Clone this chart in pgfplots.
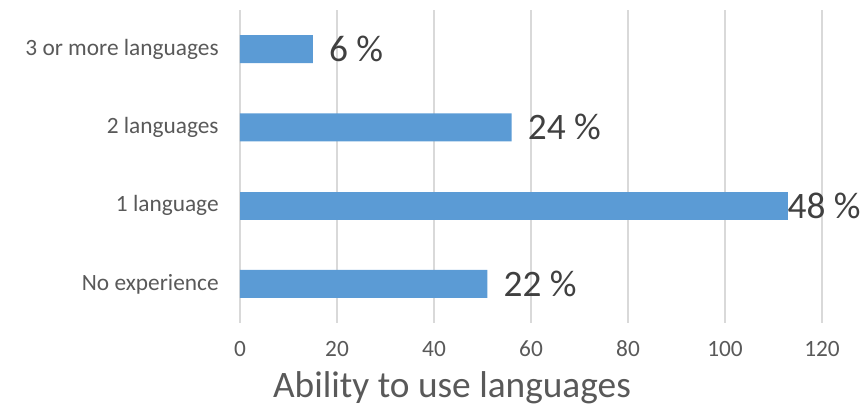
\documentclass[border=0pt]{standalone}
\usepackage{pgfplots}
\pgfplotsset{compat=1.18}
\usepackage{fontspec}
\setmainfont{Carlito}
\definecolor{barblue}{HTML}{5B9BD5}
\definecolor{gridgray}{HTML}{D9D9D9}
\definecolor{ticktext}{HTML}{595959}
\definecolor{labtext}{HTML}{404040}
\begin{document}
\begin{tikzpicture}[x=0.75pt,y=0.75pt]
\path[use as bounding box] (0,0) rectangle (868,410);
\begin{axis}[
  at={(240pt*0.75,87pt*0.75)}, anchor=south west,
  scale only axis, width=436.5pt, height=234.75pt,
  xbar, bar width=21pt, bar shift=0pt,
  xmin=0, xmax=120, ymin=-0.5, ymax=3.5,
  xtick={0,20,...,120},
  ytick={0,1,2,3},
  yticklabels={No experience,1 language,2 languages,3 or more languages},
  axis line style={draw=none},
  major tick length=0pt,
  xmajorgrids, grid style={gridgray, line width=1.1pt},
  tick label style={font=\fontsize{17.5pt}{20pt}\selectfont, text=ticktext},
  /pgf/number format/assume math mode=true,
  xticklabel style={yshift=-10pt},
  yticklabel style={xshift=-12.5pt},
  point meta=explicit symbolic,
  nodes near coords={\pgfplotspointmeta~\%},
  every node near coord/.append style={font=\fontsize{28pt}{32pt}\selectfont, text=labtext, anchor=west, inner sep=0pt, xshift=12pt},
  clip=false,
]
\addplot[fill=barblue, draw=none] coordinates {(51,0) [22] (56,2) [24] (15,3) [6]};
\addplot[fill=barblue, draw=none, every node near coord/.append style={xshift=-12.5pt}] coordinates {(113,1) [48]};
\end{axis}
\node[font=\fontsize{28pt}{32pt}\selectfont, text=ticktext] at (452,22) {Ability to use languages};
\end{tikzpicture}
\end{document}
